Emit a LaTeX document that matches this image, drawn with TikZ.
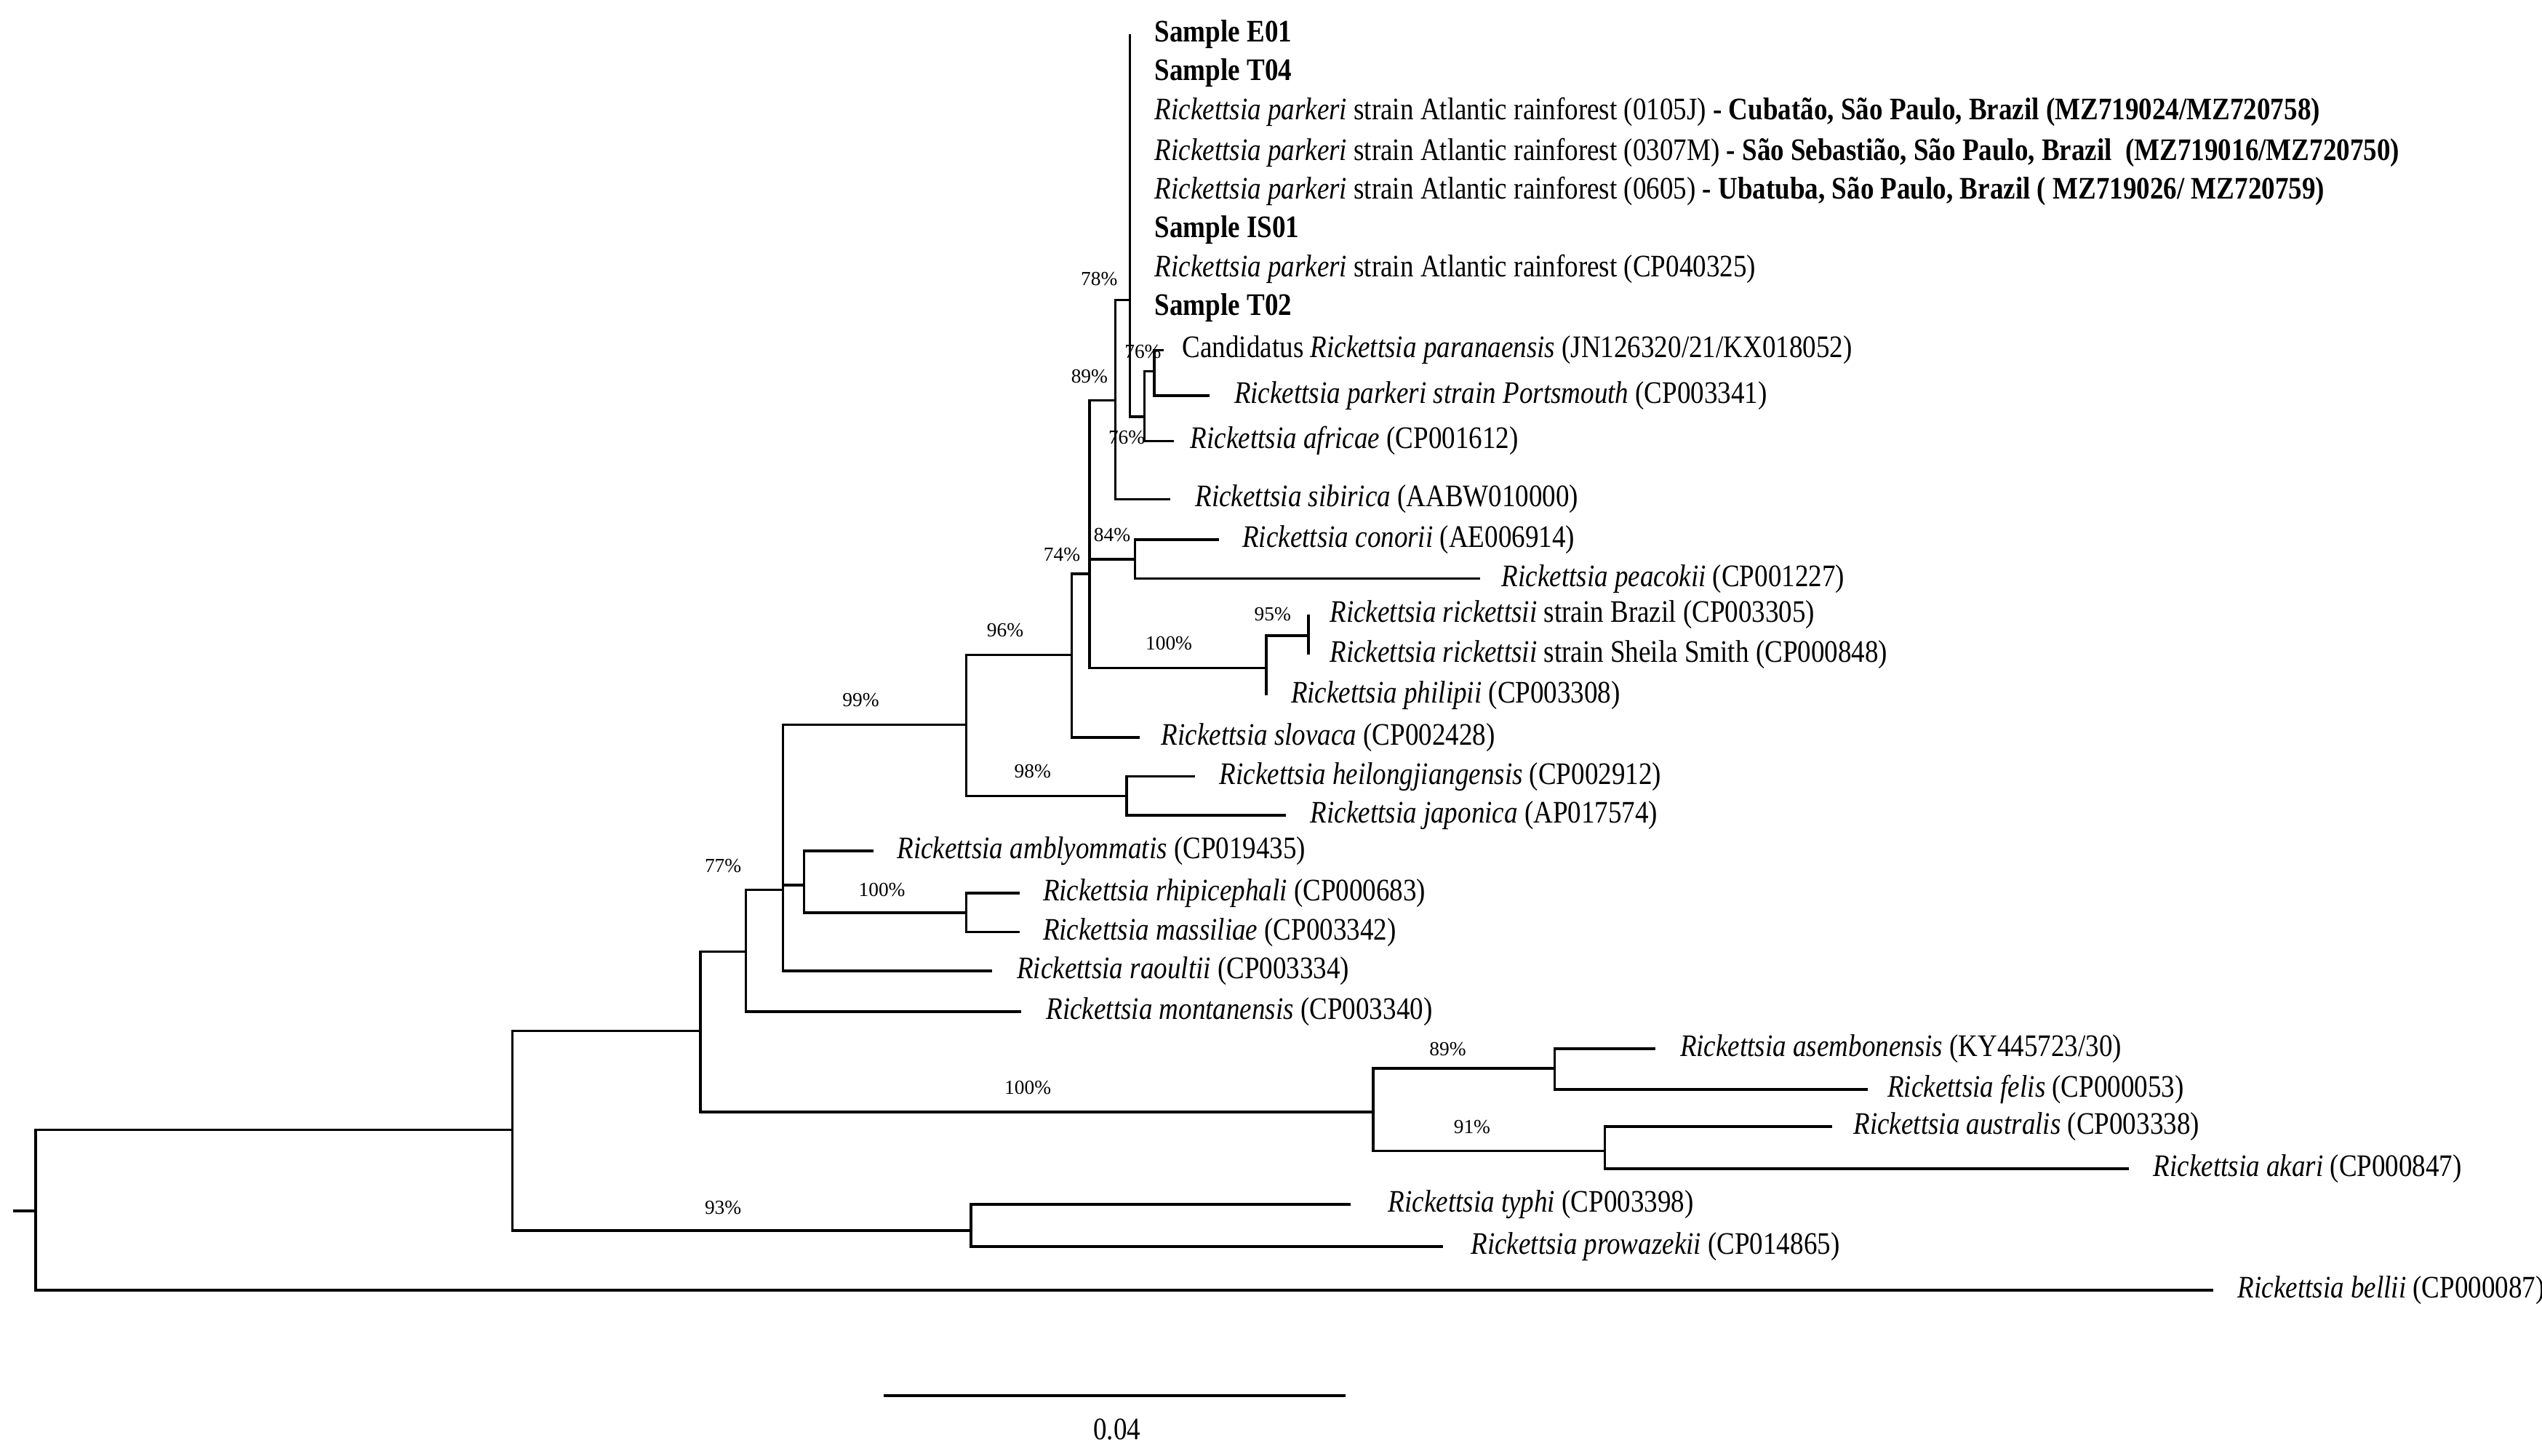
\documentclass[tikz,border=0pt]{standalone}
\usepackage{fontspec}
\setmainfont{Liberation Serif}[FakeStretch=0.86]
\newfontfamily\bootfont{Liberation Serif}
\usetikzlibrary{positioning}

\begin{document}
\begin{tikzpicture}[x=0.02cm,y=-0.02cm,
    br/.style={line width=0.9pt},
    leaf/.style={inner sep=0pt,font=\fontsize{11}{13}\selectfont},
    boot/.style={inner sep=0pt,font=\bootfont\fontsize{7}{8}\selectfont}]
    \useasboundingbox (0,0) rectangle (1568,898);
    % inner nodes of the tree
    \coordinate (stub) at (8,747);
    \coordinate (root) at (22,747);
    \coordinate (A) at (316,697);
    \coordinate (B) at (432,636);
    \coordinate (C) at (460,587);
    \coordinate (D) at (847,686);
    \coordinate (E) at (483,549);
    \coordinate (F) at (596,447);
    \coordinate (G) at (496,546);
    \coordinate (H) at (596,563);
    \coordinate (I) at (661,404);
    \coordinate (J) at (695,491);
    \coordinate (K) at (700,345);
    \coordinate (L) at (672,354);
    \coordinate (M) at (688,247);
    \coordinate (N) at (781,412);
    \coordinate (O) at (807,392);
    \coordinate (P) at (697,185);
    \coordinate (Q) at (706,257);
    \coordinate (R) at (712,229);
    \coordinate (S) at (959,659);
    \coordinate (T) at (990,710);
    \coordinate (TP) at (599,759);
    % branch ends
    \coordinate (eE01) at (697,21);
    \coordinate (eT04) at (697,45);
    \coordinate (e0105) at (697,69);
    \coordinate (e0307) at (697,94);
    \coordinate (e0605) at (697,118);
    \coordinate (eIS01) at (697,142);
    \coordinate (eCP) at (697,166);
    \coordinate (eT02) at (697,190);
    \coordinate (ecand) at (718,216);
    \coordinate (eports) at (746,244);
    \coordinate (eafr) at (724,272);
    \coordinate (esib) at (722,308);
    \coordinate (econ) at (752,333);
    \coordinate (epea) at (913,357);
    \coordinate (ebra) at (807,379);
    \coordinate (eshe) at (807,404);
    \coordinate (ephi) at (781,429);
    \coordinate (eslo) at (703,455);
    \coordinate (ehei) at (737,479);
    \coordinate (ejap) at (793,503);
    \coordinate (eamb) at (539,525);
    \coordinate (erhi) at (629,551);
    \coordinate (emas) at (629,575);
    \coordinate (erao) at (612,599);
    \coordinate (emon) at (630,624);
    \coordinate (ease) at (1021,647);
    \coordinate (efel) at (1152,672);
    \coordinate (eaus) at (1130,695);
    \coordinate (eaka) at (1313,721);
    \coordinate (etyp) at (833,743);
    \coordinate (epro) at (890,769);
    \coordinate (ebel) at (1365,796);
    % branches
    \draw[br] (stub) -- (root);
    \draw[br] (root) |- (A);
    \draw[br] (root) |- (ebel);
    \draw[br] (A) |- (B);
    \draw[br] (A) |- (TP);
    \draw[br] (TP) |- (etyp);
    \draw[br] (TP) |- (epro);
    \draw[br] (B) |- (C);
    \draw[br] (B) |- (D);
    \draw[br] (D) |- (S);
    \draw[br] (D) |- (T);
    \draw[br] (S) |- (ease);
    \draw[br] (S) |- (efel);
    \draw[br] (T) |- (eaus);
    \draw[br] (T) |- (eaka);
    \draw[br] (C) |- (E);
    \draw[br] (C) |- (emon);
    \draw[br] (E) |- (F);
    \draw[br] (E) |- (G);
    \draw[br] (E) |- (erao);
    \draw[br] (G) |- (eamb);
    \draw[br] (G) |- (H);
    \draw[br] (H) |- (erhi);
    \draw[br] (H) |- (emas);
    \draw[br] (F) |- (I);
    \draw[br] (F) |- (J);
    \draw[br] (J) |- (ehei);
    \draw[br] (J) |- (ejap);
    \draw[br] (I) |- (L);
    \draw[br] (I) |- (eslo);
    \draw[br] (L) |- (M);
    \draw[br] (L) |- (K);
    \draw[br] (L) |- (N);
    \draw[br] (K) |- (econ);
    \draw[br] (K) |- (epea);
    \draw[br] (N) |- (O);
    \draw[br] (N) |- (ephi);
    \draw[br] (O) |- (ebra);
    \draw[br] (O) |- (eshe);
    \draw[br] (M) |- (P);
    \draw[br] (M) |- (esib);
    \draw[br] (P) |- (eE01);
    \draw[br] (P) |- (eT02);
    \draw[br] (P) |- (Q);
    \draw[br] (Q) |- (R);
    \draw[br] (Q) |- (eafr);
    \draw[br] (R) |- (ecand);
    \draw[br] (R) |- (eports);
    % taxa
    \node[leaf,right=0.3cm of eE01] (lE01) {\textbf{Sample E01}};
    \node[leaf,right=0.3cm of eT04] (lT04) {\textbf{Sample T04}};
    \node[leaf,right=0.3cm of e0105] (l0105) {\textit{Rickettsia parkeri} strain Atlantic rainforest (0105J) \textbf{- Cubatão, São Paulo, Brazil (MZ719024/MZ720758)}};
    \node[leaf,right=0.3cm of e0307] (l0307) {\textit{Rickettsia parkeri} strain Atlantic rainforest (0307M) \textbf{- São Sebastião, São Paulo, Brazil \ (MZ719016/MZ720750)}};
    \node[leaf,right=0.3cm of e0605] (l0605) {\textit{Rickettsia parkeri} strain Atlantic rainforest (0605) \textbf{- Ubatuba, São Paulo, Brazil ( MZ719026/ MZ720759)}};
    \node[leaf,right=0.3cm of eIS01] (lIS01) {\textbf{Sample IS01}};
    \node[leaf,right=0.3cm of eCP] (lCP) {\textit{Rickettsia parkeri} strain Atlantic rainforest (CP040325)};
    \node[leaf,right=0.3cm of eT02] (lT02) {\textbf{Sample T02}};
    \node[leaf,right=0.22cm of ecand] (lcand) {Candidatus \textit{Rickettsia paranaensis} (JN126320/21/KX018052)};
    \node[leaf,right=0.3cm of eports] (lports) {\textit{Rickettsia parkeri strain Portsmouth} (CP003341)};
    \node[leaf,right=0.2cm of eafr] (lafr) {\textit{Rickettsia africae} (CP001612)};
    \node[leaf,right=0.3cm of esib] (lsib) {\textit{Rickettsia sibirica} (AABW010000)};
    \node[leaf,right=0.28cm of econ] (lcon) {\textit{Rickettsia conorii} (AE006914)};
    \node[leaf,right=0.26cm of epea] (lpea) {\textit{Rickettsia peacokii} (CP001227)};
    \node[leaf,right=0.26cm of ebra] (lbra) {\textit{Rickettsia rickettsii} strain Brazil (CP003305)};
    \node[leaf,right=0.26cm of eshe] (lshe) {\textit{Rickettsia rickettsii} strain Sheila Smith (CP000848)};
    \node[leaf,right=0.3cm of ephi] (lphi) {\textit{Rickettsia philipii} (CP003308)};
    \node[leaf,right=0.26cm of eslo] (lslo) {\textit{Rickettsia slovaca} (CP002428)};
    \node[leaf,right=0.3cm of ehei] (lhei) {\textit{Rickettsia heilongjiangensis} (CP002912)};
    \node[leaf,right=0.3cm of ejap] (ljap) {\textit{Rickettsia japonica} (AP017574)};
    \node[leaf,right=0.28cm of eamb] (lamb) {\textit{Rickettsia amblyommatis} (CP019435)};
    \node[leaf,right=0.28cm of erhi] (lrhi) {\textit{Rickettsia rhipicephali} (CP000683)};
    \node[leaf,right=0.28cm of emas] (lmas) {\textit{Rickettsia massiliae} (CP003342)};
    \node[leaf,right=0.3cm of erao] (lrao) {\textit{Rickettsia raoultii} (CP003334)};
    \node[leaf,right=0.3cm of emon] (lmon) {\textit{Rickettsia montanensis} (CP003340)};
    \node[leaf,right=0.3cm of ease] (lase) {\textit{Rickettsia asembonensis} (KY445723/30)};
    \node[leaf,right=0.24cm of efel] (lfel) {\textit{Rickettsia felis} (CP000053)};
    \node[leaf,right=0.26cm of eaus] (laus) {\textit{Rickettsia australis} (CP003338)};
    \node[leaf,right=0.3cm of eaka] (laka) {\textit{Rickettsia akari} (CP000847)};
    \node[leaf,right=0.46cm of etyp] (ltyp) {\textit{Rickettsia typhi} (CP003398)};
    \node[leaf,right=0.34cm of epro] (lpro) {\textit{Rickettsia prowazekii} (CP014865)};
    \node[leaf,right=0.3cm of ebel] (lbel) {\textit{Rickettsia bellii} (CP000087)};
    % bootstrap values
    \node[boot] (b78) at (678,172) {78\%};
    \node[boot] (b89a) at (672,232) {89\%};
    \node[boot] (b76a) at (705,217) {76\%};
    \node[boot] (b76b) at (695,270) {76\%};
    \node[boot] (b74) at (655,342) {74\%};
    \node[boot] (b84) at (686,330) {84\%};
    \node[boot] (b96) at (620,389) {96\%};
    \node[boot] (b99) at (531,432) {99\%};
    \node[boot] (b98) at (637,476) {98\%};
    \node[boot] (b100a) at (721,397) {100\%};
    \node[boot] (b95) at (785,379) {95\%};
    \node[boot] (b77) at (446,534) {77\%};
    \node[boot] (b100b) at (544,549) {100\%};
    \node[boot] (b100c) at (634,671) {100\%};
    \node[boot] (b89b) at (893,647) {89\%};
    \node[boot] (b91) at (908,695) {91\%};
    \node[boot] (b93) at (446,745) {93\%};
    % scale bar
    \coordinate (sbL) at (545,861);
    \coordinate (sbR) at (830,861);
    \draw[br] (sbL) -- (sbR);
    \node[leaf] (sblab) at (689,882) {0.04};
\end{tikzpicture}
\end{document}
